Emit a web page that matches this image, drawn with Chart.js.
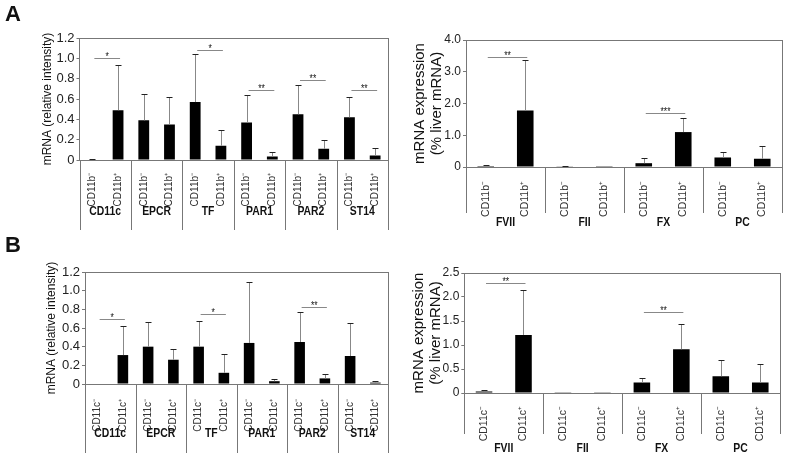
<!DOCTYPE html>
<html lang="en">
<head>
  <meta charset="UTF-8" />
  <title>mRNA expression in sorted CD11b / CD11c cells</title>
  <script src="https://cdn.jsdelivr.net/npm/chart.js"></script>
  <style>
    body {
      margin: 0;
      background: #fff;
      font-family: 'Liberation Sans', Arial, sans-serif;
    }
    #figure {
      position: relative;
      width: 787px;
      height: 453px;
    }
    .panel { position: absolute; }
    .tag {
      position: absolute;
      font-weight: bold;
      font-size: 22px;
      color: #111;
    }
  </style>
</head>
<body>
  <div id="figure">
    <canvas class="panel" id="aLeft" width="400" height="235" style="left:0;top:0"></canvas>
    <canvas class="panel" id="aRight" width="387" height="235" style="left:400px;top:0"></canvas>
    <canvas class="panel" id="bLeft" width="400" height="218" style="left:0;top:235px"></canvas>
    <canvas class="panel" id="bRight" width="387" height="218" style="left:400px;top:235px"></canvas>
    <div class="tag" style="left:5px;top:1px">A</div>
    <div class="tag" style="left:5px;top:232px">B</div>
  </div>

  <script>
    // groups under the bars
    const genesLeft = ['CD11c', 'EPCR', 'TF', 'PAR1', 'PAR2', 'ST14'];
    const factorsRight = ['FVII', 'FII', 'FX', 'PC'];

    // bar labels
    const cd11bLeft = ['CD11b⁻', 'CD11b⁺', 'CD11b⁻', 'CD11b⁺', 'CD11b⁻', 'CD11b⁺',
                       'CD11b⁻', 'CD11b⁺', 'CD11b⁻', 'CD11b⁺', 'CD11b⁻', 'CD11b⁺'];
    const cd11bRight = ['CD11b⁻', 'CD11b⁺', 'CD11b⁻', 'CD11b⁺', 'CD11b⁻', 'CD11b⁺', 'CD11b⁻', 'CD11b⁺'];
    const cd11cLeft = ['CD11c⁻', 'CD11c⁺', 'CD11c⁻', 'CD11c⁺', 'CD11c⁻', 'CD11c⁺',
                       'CD11c⁻', 'CD11c⁺', 'CD11c⁻', 'CD11c⁺', 'CD11c⁻', 'CD11c⁺'];
    const cd11cRight = ['CD11c⁻', 'CD11c⁺', 'CD11c⁻', 'CD11c⁺', 'CD11c⁻', 'CD11c⁺', 'CD11c⁻', 'CD11c⁺'];

    // A: CD11b sorted cells (mean and upper SD)
    const aLeftMean = [0.005, 0.49, 0.39, 0.35, 0.57, 0.14, 0.37, 0.035, 0.45, 0.11, 0.42, 0.045];
    const aLeftSD   = [0.005, 0.44, 0.26, 0.27, 0.47, 0.16, 0.27, 0.04, 0.29, 0.09, 0.20, 0.075];
    const aRightMean = [0.03, 1.78, 0.01, 0.005, 0.12, 1.10, 0.30, 0.26];
    const aRightSD   = [0.03, 1.59, 0.02, 0, 0.16, 0.45, 0.17, 0.39];

    // B: CD11c sorted cells
    const bLeftMean = [0, 0.31, 0.40, 0.26, 0.40, 0.12, 0.44, 0.03, 0.45, 0.06, 0.30, 0.015];
    const bLeftSD   = [0, 0.31, 0.26, 0.12, 0.28, 0.20, 0.65, 0.025, 0.32, 0.05, 0.35, 0.015];
    const bRightMean = [0.03, 1.21, 0.005, 0.005, 0.22, 0.91, 0.35, 0.22];
    const bRightSD   = [0.04, 0.93, 0, 0, 0.09, 0.52, 0.34, 0.39];

    // significance brackets: [from bar, to bar, height, stars]
    const aLeftSig = [[0, 1, 1.0, '*'], [4, 5, 1.08, '*'], [6, 7, 0.69, '**'], [8, 9, 0.79, '**'], [10, 11, 0.69, '**']];
    const aRightSig = [[0, 1, 3.47, '**'], [4, 5, 1.69, '***']];
    const bLeftSig = [[0, 1, 0.70, '*'], [4, 5, 0.75, '*'], [8, 9, 0.82, '**']];
    const bRightSig = [[0, 1, 2.30, '**'], [4, 5, 1.69, '**']];

    const axisGray = '#777';
    const font = "'Liberation Sans', Arial, sans-serif";

    // text squeezed sideways, the figure looks horizontally compressed
    function squeezedText(ctx, text, x, y, sx) {
      ctx.save();
      ctx.translate(x, y);
      ctx.scale(sx, 1);
      ctx.fillText(text, 0, 0);
      ctx.restore();
    }

    // frame, group separators, group names, error bars, significance
    const decorPlugin = {
      id: 'decor',
      afterDatasetsDraw(chart, args, opts) {
        const ctx = chart.ctx;
        const { left, right, top, bottom } = chart.chartArea;
        const y = chart.scales.y;
        const bars = chart.getDatasetMeta(0).data;
        ctx.save();

        // error bars (upper only)
        opts.sd.forEach((sd, i) => {
          if (!sd) return;
          const x = Math.round(bars[i].x) + 0.5;
          const y0 = y.getPixelForValue(opts.mean[i]);
          const y1 = Math.round(y.getPixelForValue(opts.mean[i] + sd)) + 0.5;
          ctx.strokeStyle = '#888';
          ctx.lineWidth = 1;
          ctx.beginPath();
          ctx.moveTo(x, y0);
          ctx.lineTo(x, y1);
          ctx.stroke();
          ctx.strokeStyle = '#222';
          ctx.beginPath();
          ctx.moveTo(x - 3, y1);
          ctx.lineTo(x + 3, y1);
          ctx.stroke();
        });

        // significance lines
        opts.sig.forEach(([a, b, v, stars]) => {
          const x0 = bars[a].x + 2, x1 = bars[b].x + 2;
          const yy = Math.round(y.getPixelForValue(v)) + 0.5;
          ctx.strokeStyle = '#888';
          ctx.lineWidth = 1;
          ctx.beginPath();
          ctx.moveTo(x0, yy);
          ctx.lineTo(x1, yy);
          ctx.stroke();
          ctx.fillStyle = '#111';
          ctx.font = '10px ' + font;
          ctx.textAlign = 'center';
          ctx.textBaseline = 'alphabetic';
          squeezedText(ctx, stars, (x0 + x1) / 2, yy + 1, 0.85);
        });

        // box frame and separators
        ctx.strokeStyle = axisGray;
        ctx.lineWidth = 1;
        ctx.beginPath();
        ctx.moveTo(left, Math.round(top) + 0.5);
        ctx.lineTo(right, Math.round(top) + 0.5);
        const n = opts.groups.length;
        for (let k = 0; k <= n; k++) {
          const x = Math.round(left + k * (right - left) / n) + 0.5;
          ctx.moveTo(x, k === n ? top : bottom);
          ctx.lineTo(x, opts.sepBottom);
        }
        ctx.stroke();

        // group names
        ctx.fillStyle = '#111';
        ctx.font = 'bold 13px ' + font;
        ctx.textAlign = 'center';
        ctx.textBaseline = 'middle';
        opts.groups.forEach((g, k) => {
          const x = left + (k + 0.5) * (right - left) / n;
          squeezedText(ctx, g, x, opts.groupY, 0.8);
        });
        ctx.restore();
      }
    };

    function makePanel(id, labels, mean, sd, sig, groups, box) {
      new Chart(document.getElementById(id), {
        type: 'bar',
        data: {
          labels: labels,
          datasets: [{
            data: mean,
            backgroundColor: '#000',
            borderWidth: 0,
            barPercentage: 0.42,
            categoryPercentage: 1
          }]
        },
        options: {
          responsive: false,
          animation: false,
          layout: {
            padding: { left: box.padLeft, right: box.padRight, top: box.top, bottom: 0 }
          },
          plugins: {
            legend: { display: false },
            tooltip: { enabled: false },
            decor: { mean: mean, sd: sd, sig: sig, groups: groups, sepBottom: box.sepBottom, groupY: box.groupY }
          },
          scales: {
            x: {
              grid: { display: false },
              border: { display: true, color: axisGray },
              ticks: {
                autoSkip: false,
                minRotation: 90,
                maxRotation: 90,
                padding: box.labelPad,
                color: '#333',
                font: { family: font, size: box.labelSize }
              },
              afterFit: (s) => { s.height = box.xHeight; }
            },
            y: {
              min: 0,
              max: box.max,
              grid: { display: true, drawOnChartArea: false, drawTicks: true, tickLength: 3, color: axisGray },
              border: { display: true, color: axisGray },
              ticks: {
                stepSize: box.step,
                padding: 2,
                color: '#222',
                font: { family: font, size: box.tickSize },
                callback: (v) => v === 0 ? '0' : v.toFixed(1)
              },
              title: {
                display: true,
                text: box.title,
                color: '#111',
                padding: 0,
                font: { family: font, size: box.titleSize, lineHeight: 1.15 }
              },
              afterFit: (s) => { s.width = box.yWidth; }
            }
          }
        },
        plugins: [decorPlugin]
      });
    }

    makePanel('aLeft', cd11bLeft, aLeftMean, aLeftSD, aLeftSig, genesLeft, {
      max: 1.2, step: 0.2, title: 'mRNA (relative intensity)', titleSize: 12, tickSize: 13,
      padLeft: 41, yWidth: 38.5, padRight: 12, top: 38, xHeight: 75, labelPad: 5, labelSize: 10,
      sepBottom: 230, groupY: 211
    });
    makePanel('aRight', cd11bRight, aRightMean, aRightSD, aRightSig, factorsRight, {
      max: 4.0, step: 0.5, title: ['mRNA expression', '(% liver mRNA)'], titleSize: 15, tickSize: 12,
      padLeft: 11, yWidth: 55, padRight: 5, top: 40, xHeight: 68, labelPad: 6, labelSize: 10.5,
      sepBottom: 213, groupY: 222
    });
    makePanel('bLeft', cd11cLeft, bLeftMean, bLeftSD, bLeftSig, genesLeft, {
      max: 1.2, step: 0.2, title: 'mRNA (relative intensity)', titleSize: 12, tickSize: 13,
      padLeft: 45, yWidth: 40, padRight: 12, top: 37, xHeight: 69, labelPad: 7, labelSize: 10,
      sepBottom: 218, groupY: 198
    });
    makePanel('bRight', cd11cRight, bRightMean, bRightSD, bRightSig, factorsRight, {
      max: 2.5, step: 0.5, title: ['mRNA expression', '(% liver mRNA)'], titleSize: 15, tickSize: 12,
      padLeft: 10, yWidth: 54.3, padRight: 7, top: 38, xHeight: 60, labelPad: 5, labelSize: 10.5,
      sepBottom: 199, groupY: 213
    });
  </script>
</body>
</html>
